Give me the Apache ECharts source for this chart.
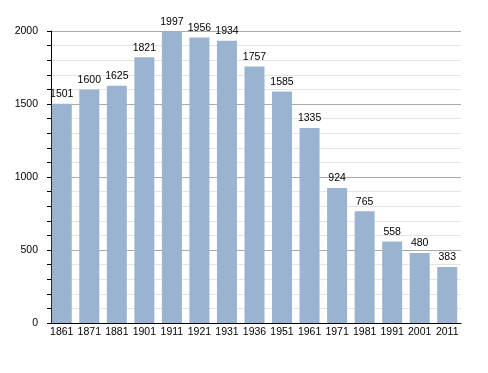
<!DOCTYPE html>
<html><head><meta charset="utf-8">
<script src="https://cdn.jsdelivr.net/npm/echarts@6/dist/echarts.min.js"></script>
<style>html,body{margin:0;padding:0;background:#fff}#c{width:488px;height:373px}</style>
</head><body><div id="c"></div>
<script>
const categories = ['1861','1871','1881','1901','1911','1921','1931','1936','1951','1961','1971','1981','1991','2001','2011'];
const population = [1501,1600,1625,1821,1997,1956,1934,1757,1585,1335,924,765,558,480,383];
const yTicks = [0,500,1000,1500,2000];

const chart = echarts.init(document.getElementById('c'), null, {renderer:'canvas'});
const font = 'Liberation Sans, Arial, sans-serif';
chart.setOption({
  animation:false,
  backgroundColor:'#fff',
  grid:{left:48, width:413, top:31, height:292},
  xAxis:{
    type:'category', data:categories,
    axisLine:{lineStyle:{color:'#000', width:1}},
    axisTick:{show:false},
    axisLabel:{color:'#000', fontSize:10.5, fontFamily:font, margin:4, interval:0}
  },
  yAxis:{
    type:'value', min:yTicks[0], max:yTicks[yTicks.length-1], interval:500, offset:-3,
    axisLine:{show:true, lineStyle:{color:'#000', width:1}},
    axisTick:{show:true, length:4, lineStyle:{color:'#000'}},
    minorTick:{show:true, splitNumber:5, length:4, lineStyle:{color:'#000'}},
    axisLabel:{color:'#000', fontSize:10.5, fontFamily:font, margin:13, formatter:(v)=>String(v)},
    splitLine:{lineStyle:{color:'#aaaaaa', width:1}},
    minorSplitLine:{show:true, lineStyle:{color:'#e4e4e4', width:1}}
  },
  series:[{
    type:'bar', data:population, barWidth:20,
    itemStyle:{color:'#9ab3d0'},
    label:{show:true, position:'top', distance:4, color:'#000', fontSize:10.5, fontFamily:font}
  }]
});
</script></body></html>
